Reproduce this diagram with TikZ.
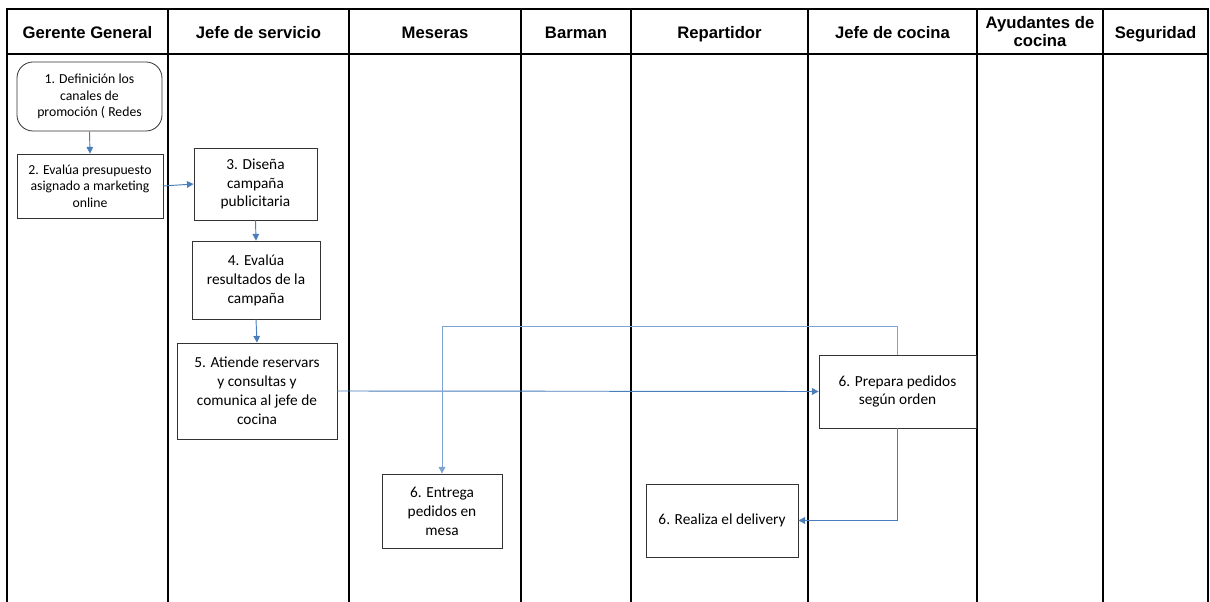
\documentclass[tikz,border=0pt]{standalone}
\usepackage{fontspec}
\setmainfont{Liberation Sans}
\newfontfamily\cajafont{Carlito}
\usetikzlibrary{arrows.meta}

\definecolor{azul}{RGB}{74,126,187}
\definecolor{azulclaro}{RGB}{125,163,212}

\tikzset{
  paso/.style={draw=black!80, line width=0.6pt, fill=white, align=center, inner sep=0pt,
    font=\cajafont\fontsize{11.5}{14.2}\selectfont},
  pasochico/.style={paso, font=\cajafont\fontsize{10.3}{12.5}\selectfont},
  flecha/.style={draw=azul, line width=0.7pt, -{Triangle[length=5pt,width=5pt]}},
  flechaclara/.style={flecha, draw=azulclaro},
  carril/.style={line width=1.6pt, line cap=rect},
  titulo/.style={font=\bfseries\fontsize{12.5}{14}\selectfont, align=center}
}

\begin{document}
\begin{tikzpicture}[x=0.75pt, y=-0.75pt]
  \useasboundingbox (0,0) rectangle (1210,602);

  % carriles
  \draw[carril] (7,9) -- (1208,9);
  \draw[carril] (7,54) -- (1208,54);
  \foreach \xl in {7,168,349,521,631,808,977,1103,1208}
    \draw[carril] (\xl,9) -- (\xl,602);

  % encabezados
  \foreach \xc/\nombre/\id in {87.5/Gerente General/gerente, 258.5/Jefe de servicio/servicio,
      435/Meseras/meseras, 576/Barman/barman, 719.5/Repartidor/repartidor,
      892.5/Jefe de cocina/cocina, 1155.5/Seguridad/seguridad}
    \node[titulo, anchor=base] (h\id) at (\xc,39) {\nombre};
  \node[titulo] (hayudantes) at (1040,31.5) {Ayudantes de\\cocina};

  % pasos
  \node[pasochico, rounded corners=12pt, minimum width=108.75pt, minimum height=51.75pt]
    (d1) at (89.5,96.5) {1. Definición los\\canales de\\promoción ( Redes};
  \node[pasochico, minimum width=109.5pt, minimum height=48pt]
    (d2) at (90,186) {2. Evalúa presupuesto\\asignado a marketing\\online};
  \node[paso, minimum width=92.25pt, minimum height=54pt]
    (d3) at (255.5,184) {3. Diseña\\campaña\\publicitaria};
  \node[paso, minimum width=96pt, minimum height=58.5pt]
    (d4) at (256,280) {4. Evalúa\\resultados de la\\campaña};
  \node[paso, minimum width=120pt, minimum height=72pt]
    (d5) at (257,391) {5. Atiende reservars\\y consultas y\\comunica al jefe de\\cocina};
  \node[paso, minimum width=117.75pt, minimum height=54.75pt]
    (prep) at (897.5,391.5) {6. Prepara pedidos\\según orden};
  \node[paso, minimum width=90pt, minimum height=55.5pt]
    (entr) at (442,511) {6. Entrega\\pedidos en\\mesa};
  \node[paso, minimum width=114pt, minimum height=54.75pt]
    (deliv) at (722,520.5) {6. Realiza el delivery};

  % flujo
  \draw[flecha] (d1.south) -- (d2.north);
  \draw[flecha] (d2.east) -- (d3.west);
  \draw[flecha] (d3.south) -- (d4.north);
  \draw[flecha] (d4.south) -- (d5.north);
  \draw[flecha] (d5.east) -- (prep.west);
  \draw[flechaclara] (prep.north) -- ++(0,-28) -| (entr.north);
  \draw[flecha] (prep.south) |- (deliv.east);
\end{tikzpicture}
\end{document}
